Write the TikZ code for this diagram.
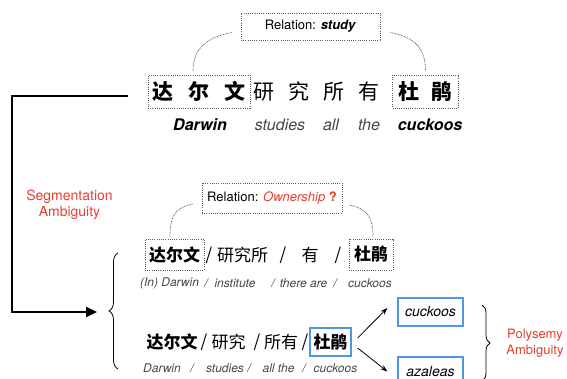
\documentclass[tikz,border=0pt]{standalone}
\usepackage{fontspec}
\setmainfont{TeX Gyre Heros}
\newfontfamily\cjk{Noto Sans CJK SC}
\usetikzlibrary{arrows.meta,decorations.pathreplacing}
\definecolor{ambred}{RGB}{228,62,48}
\definecolor{boxblue}{RGB}{80,150,230}
\definecolor{glossgray}{RGB}{70,70,70}
\definecolor{dotgray}{RGB}{90,90,90}
\tikzset{
  dotbox/.style={draw=dotgray, line width=0.7pt, dash pattern=on 1pt off 1.2pt, inner sep=0pt},
  bluebox/.style={draw=boxblue, line width=1.3pt, inner sep=0pt},
  link/.style={draw=dotgray, line width=0.7pt, dash pattern=on 0.8pt off 0.8pt},
  reltext/.style={font=\fontsize{13}{15}\selectfont},
  hanbig/.style={font=\cjk\fontsize{21}{21}\selectfont, inner sep=0pt},
  hanmid/.style={font=\cjk\fontsize{17}{17}\selectfont, inner sep=0pt},
  bigword/.style={font=\fontsize{16}{18}\selectfont\itshape, text=glossgray, inner sep=0pt},
  gloss/.style={font=\fontsize{12}{14}\selectfont\itshape, text=glossgray, inner sep=0pt},
  sense/.style={bluebox, font=\fontsize{14}{16}\selectfont\itshape, minimum width=65pt},
  ambig/.style={font=\fontsize{13}{16}\selectfont, text=ambred, align=center, inner sep=0pt},
}
\begin{document}
\begin{tikzpicture}[x=1pt,y=-1pt]
\useasboundingbox (0,0) rectangle (567,379);

% first reading
\node[dotbox, reltext, minimum width=139pt, minimum height=27pt] (rel1) at (310.5,26.5) {Relation: \textbf{\textit{study}}};
\node[dotbox, hanbig, font=\cjk\bfseries\fontsize{21}{21}\selectfont, minimum width=102pt, minimum height=33pt] (dar1) at (199,91.5) {达\hspace{15pt}尔\hspace{15pt}文};
\node[hanbig] (mid1) at (316.5,91.5) {研\hspace{14pt}究\hspace{14pt}所\hspace{14pt}有};
\node[dotbox, hanbig, font=\cjk\bfseries\fontsize{21}{21}\selectfont, minimum width=66pt, minimum height=33pt] (duj1) at (425.5,91.5) {杜\hspace{12.5pt}鹃};
\draw[link] ([xshift=-9pt,yshift=-6pt]rel1.west) .. controls +(-25,5) and +(0,-22) .. ([xshift=-6pt,yshift=4pt]dar1.north);
\draw[link] ([xshift=10pt,yshift=-6pt]rel1.east) .. controls +(25,5) and +(0,-22) .. ([yshift=4pt]duj1.north);

\node[bigword, font=\fontsize{16}{18}\selectfont\bfseries\itshape, text=black] (w1) at (200,125) {Darwin};
\node[bigword] (w2) at (280,125) {studies};
\node[bigword] (w3) at (331,125) {all};
\node[bigword] (w4) at (369,125) {the};
\node[bigword, font=\fontsize{16}{18}\selectfont\bfseries\itshape, text=black] (w5) at (430,125) {cuckoos};

% segmentation arrow
\coordinate (segstart) at ([xshift=-20pt,yshift=-4.5pt]dar1.west);
\coordinate (segcorner) at (12,312);
\coordinate (lbtip) at (108,312);
\draw[line width=2.2pt, -{Triangle[length=11pt,width=10pt]}] (segstart) -| (segcorner) -- ([xshift=-11pt]lbtip);
\node[ambig, font=\fontsize{14}{16}\selectfont] (seglbl) at (69.5,205) {Segmentation\\Ambiguity};
\draw[line width=0.8pt, decorate, decoration={brace, amplitude=9pt}] (118,369) -- (118,253);

% second reading
\node[dotbox, reltext, minimum width=140pt, minimum height=30pt] (rel2) at (272,198) {Relation: \textcolor{ambred}{\textit{Ownership} \textbf{?}}};
\node[dotbox, hanmid, font=\cjk\bfseries\fontsize{17}{17}\selectfont, minimum width=59pt, minimum height=31pt] (dar2) at (174.5,254.5) {达尔文};
\foreach \x/\t [count=\i] in {209/{/},242.5/研究所,283/{/},310/有,338/{/}}
  \node[hanmid] (m2\i) at (\x,255) {\t};
\node[dotbox, hanmid, font=\cjk\bfseries\fontsize{17}{17}\selectfont, minimum width=44pt, minimum height=31pt] (duj2) at (371,254.5) {杜鹃};
\draw[link] ([xshift=-9pt,yshift=-6pt]rel2.west) .. controls +(-20,4) and +(0,-18) .. ([xshift=-4.5pt,yshift=1pt]dar2.north);
\draw[link] ([xshift=7pt,yshift=-7pt]rel2.east) .. controls +(20,4) and +(0,-18) .. ([xshift=2pt,yshift=1pt]duj2.north);
\foreach \x/\t [count=\i] in {169.5/(In) Darwin,206/{/},235/institute,273/{/},303.5/there are,335/{/},370/cuckoos}
  \node[gloss] (g2\i) at (\x,283) {\t};

% third reading
\node[hanmid, font=\cjk\bfseries\fontsize{17}{17}\selectfont] (dar3) at (172,342) {达尔文};
\foreach \x/\t [count=\i] in {204/{/},228.5/研究,257/{/},281/所有,305/{/}}
  \node[hanmid] (m3\i) at (\x,342) {\t};
\node[bluebox, hanmid, font=\cjk\bfseries\fontsize{17}{17}\selectfont, minimum width=41pt, minimum height=28pt] (duj3) at (330.5,342) {杜鹃};
\foreach \x/\t [count=\i] in {162/Darwin,192/{/},225/studies,249/{/},278.5/all the,304/{/},335.5/cuckoos}
  \node[gloss] (g3\i) at (\x,368) {\t};

% senses
\node[sense, minimum height=28pt] (cuck) at (430.5,312) {cuckoos};
\node[sense, minimum height=29pt] (aza) at (430.5,371.5) {azaleas};
\draw[line width=0.8pt, -{Stealth[length=7pt,width=5pt]}] ([xshift=6pt,yshift=4pt]duj3.east) -- ([xshift=-10pt,yshift=4pt]cuck.west);
\draw[line width=0.8pt, -{Stealth[length=7pt,width=5pt]}] ([xshift=6pt,yshift=-6pt]duj3.east) -- ([xshift=-10pt]aza.west);
\draw[line width=0.8pt, decorate, decoration={brace, amplitude=8pt}] (482,305) -- (482,381);
\node[ambig] (polylbl) at (535,343) {Polysemy\\Ambiguity};
\end{tikzpicture}
\end{document}
